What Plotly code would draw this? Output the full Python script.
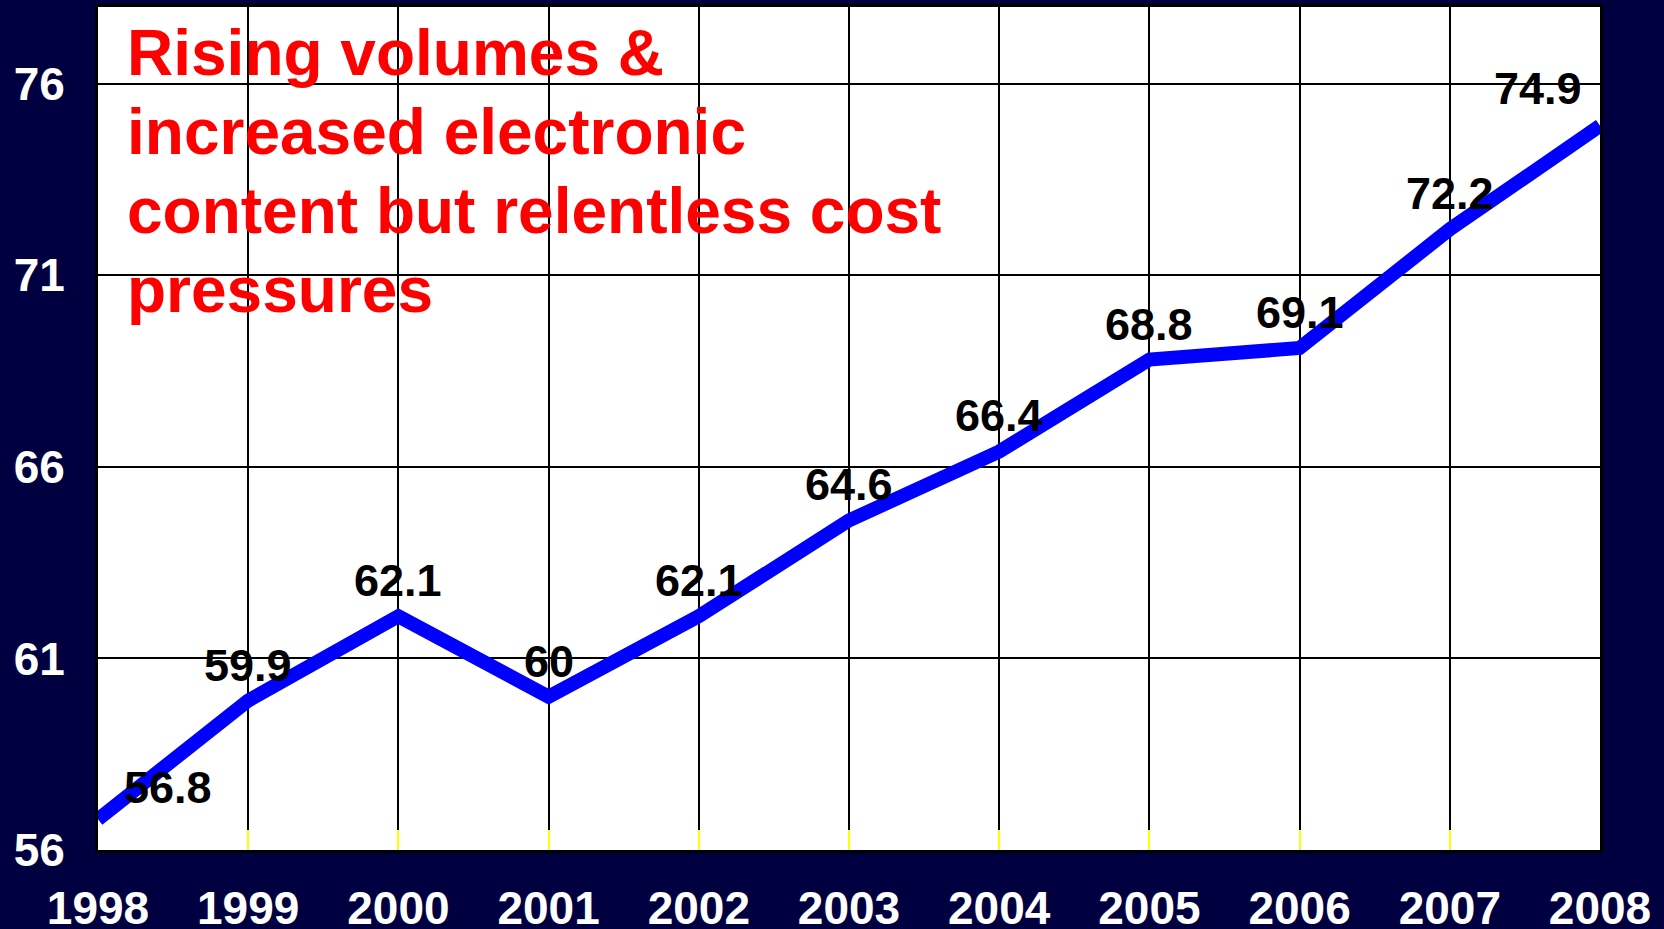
import plotly.graph_objects as go

years = [1998, 1999, 2000, 2001, 2002, 2003, 2004, 2005, 2006, 2007, 2008]
values = [56.8, 59.9, 62.1, 60.0, 62.1, 64.6, 66.4, 68.8, 69.1, 72.2, 74.9]
labels = ["56.8", "59.9", "62.1", "60", "62.1", "64.6", "66.4", "68.8", "69.1", "72.2", "74.9"]
y_ticks = [56, 61, 66, 71, 76]
title_lines = ["Rising volumes &", "increased electronic", "content but relentless cost", "pressures"]

BG = "#000040"
FONT = "Liberation Sans, Arial, sans-serif"
W, H = 1664, 929
ML, MR, MT, MB = 98, 64, 7, 79
PH = H - MT - MB

fig = go.Figure()
fig.add_trace(go.Scatter(
    x=years, y=values, mode="lines",
    line=dict(color="#0000FF", width=14),
    hoverinfo="skip", showlegend=False,
))

# value labels above the line
last = len(years) - 1
for i, (xv, yv, lab) in enumerate(zip(years, values, labels)):
    if i == 0:
        anchor, xs, ys = "left", 24, 4
    elif i == last:
        anchor, xs, ys = "right", -16, 10
    else:
        anchor, xs, ys = "center", 0, 8
    fig.add_annotation(
        x=xv, y=yv, xref="x", yref="y", text=lab, showarrow=False,
        xanchor=anchor, yanchor="bottom", xshift=xs, yshift=ys,
        font=dict(family=FONT, size=45, color="black", weight="bold"),
    )

for i, line in enumerate(title_lines):
    py = 53 + 79 * i
    fig.add_annotation(
        xref="paper", yref="paper", x=(125 - ML) / (W - ML - MR), y=1 - (py - MT) / PH,
        xanchor="left", yanchor="middle",
        text=line, showarrow=False, align="left",
        font=dict(family=FONT, size=64, color="#FF0000", weight="bold"),
    )

fig.update_layout(
    width=W, height=H,
    paper_bgcolor=BG, plot_bgcolor="white",
    margin=dict(l=ML, r=MR, t=MT, b=MB),
    xaxis=dict(
        range=[1998, 2008], tickmode="array", tickvals=years,
        ticktext=[str(y) for y in years],
        showgrid=True, gridcolor="black", gridwidth=2,
        ticks="inside", ticklen=20, tickwidth=2, tickcolor="#FFFF00",
        showline=True, linecolor="black", linewidth=3, mirror=True,
        tickfont=dict(family=FONT, size=46, color="white", weight="bold"),
        ticklabelstandoff=16, zeroline=False, automargin=False,
    ),
    yaxis=dict(
        range=[56, 78], tickmode="array", tickvals=y_ticks,
        showgrid=True, gridcolor="black", gridwidth=2,
        ticks="", showline=True, linecolor="black", linewidth=3, mirror=True,
        tickfont=dict(family=FONT, size=46, color="white", weight="bold"),
        ticklabelstandoff=21, zeroline=False, automargin=False,
    ),
)

fig.write_html(
    "out.html",
    config={"displayModeBar": False},
    post_script="document.body.style.margin='0px';document.body.style.overflow='hidden';",
)
